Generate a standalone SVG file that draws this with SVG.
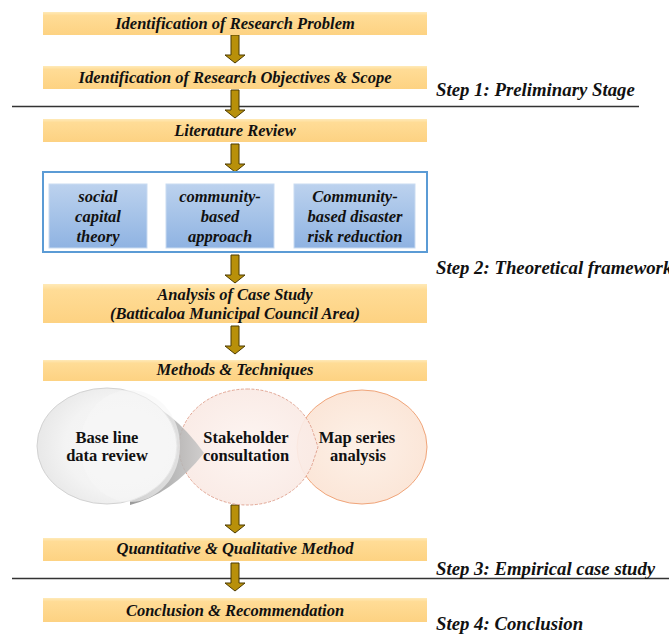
<svg xmlns="http://www.w3.org/2000/svg" width="669" height="635" viewBox="0 0 669 635">
  <style>
    text { font-family: 'Liberation Serif', 'Times New Roman', serif; fill: #111; }
    .bar { fill: url(#barFill); }
    .bar-text { font-weight: bold; font-style: italic; font-size: 16.5px; text-anchor: middle; }
    .step { font-weight: bold; font-style: italic; font-size: 18.8px; }
    .theory { fill: url(#blueFill); stroke: #c9dbf1; stroke-width: 1; }
    .theory-text { font-weight: bold; font-style: italic; font-size: 16.5px; text-anchor: middle; }
    .circle-text { font-weight: bold; font-size: 16.5px; text-anchor: middle; }
    .divider { stroke: #333; stroke-width: 1.3; }
    .flow { fill: #b8900a; stroke: #4d3b00; stroke-width: 1; }
  </style>
  <defs>
    <linearGradient id="barFill" x1="0" y1="0" x2="0" y2="1">
      <stop offset="0" stop-color="#ffeab8"/>
      <stop offset="0.15" stop-color="#ffdc96"/>
      <stop offset="1" stop-color="#fdd282"/>
    </linearGradient>
    <linearGradient id="blueFill" x1="0" y1="0" x2="0" y2="1">
      <stop offset="0" stop-color="#bcd2ee"/>
      <stop offset="1" stop-color="#8fb3e2"/>
    </linearGradient>
    <radialGradient id="greyBall" cx="0.62" cy="0.5" r="0.6">
      <stop offset="0" stop-color="#f7f7f7"/>
      <stop offset="0.7" stop-color="#f3f3f3"/>
      <stop offset="1" stop-color="#e9e9e9"/>
    </radialGradient>
    <linearGradient id="greyShadow" x1="0" y1="0" x2="1" y2="0">
      <stop offset="0" stop-color="#888"/>
      <stop offset="1" stop-color="#c8c8c8"/>
    </linearGradient>
    <radialGradient id="pinkBall" cx="0.5" cy="0.5" r="0.6">
      <stop offset="0" stop-color="#fdf4f1"/>
      <stop offset="1" stop-color="#f9e8e2"/>
    </radialGradient>
    <radialGradient id="peachBall" cx="0.5" cy="0.5" r="0.6">
      <stop offset="0" stop-color="#fdf1e8"/>
      <stop offset="1" stop-color="#fbe4d5"/>
    </radialGradient>
    <path id="downArrow" d="M -4 0 H 4 V 20 H 10 L 0 28 L -10 20 H -4 Z"/>
  </defs>

  <!-- stage dividers -->
  <g id="dividers">
    <line class="divider" x1="12" y1="106.5" x2="639" y2="106.5"/>
    <line class="divider" x1="12" y1="578.5" x2="669" y2="578.5"/>
  </g>

  <!-- flow arrows between stages -->
  <g id="connectors">
    <use href="#downArrow" class="flow" x="235" y="35"/>
    <use href="#downArrow" class="flow" x="235" y="90"/>
    <use href="#downArrow" class="flow" x="235" y="144"/>
    <use href="#downArrow" class="flow" x="235" y="255"/>
    <use href="#downArrow" class="flow" x="235" y="326"/>
    <use href="#downArrow" class="flow" x="235" y="505"/>
    <use href="#downArrow" class="flow" x="235" y="563"/>
  </g>

  <g id="research-problem">
    <rect class="bar" x="43" y="12" width="384" height="23"/>
    <text class="bar-text" x="235" y="29">Identification of Research Problem</text>
  </g>

  <g id="research-objectives">
    <rect class="bar" x="43" y="66" width="384" height="23"/>
    <text class="bar-text" x="235" y="83">Identification of Research Objectives &amp; Scope</text>
  </g>

  <g id="literature-review">
    <rect class="bar" x="43" y="119" width="384" height="23"/>
    <text class="bar-text" x="235" y="136">Literature Review</text>
  </g>

  <g id="theories">
    <rect x="43" y="172" width="384" height="80" fill="#fff" stroke="#5b9bd5" stroke-width="2"/>
    <g id="social-capital">
      <rect class="theory" x="49" y="184" width="98" height="64"/>
      <text class="theory-text" x="98" y="202">social</text>
      <text class="theory-text" x="98" y="222">capital</text>
      <text class="theory-text" x="98" y="242">theory</text>
    </g>
    <g id="community-based">
      <rect class="theory" x="166" y="184" width="108" height="64"/>
      <text class="theory-text" x="220" y="202">community-</text>
      <text class="theory-text" x="220" y="222">based</text>
      <text class="theory-text" x="220" y="242">approach</text>
    </g>
    <g id="cbdrr">
      <rect class="theory" x="294" y="184" width="121" height="64"/>
      <text class="theory-text" x="355" y="202">Community-</text>
      <text class="theory-text" x="355" y="222">based disaster</text>
      <text class="theory-text" x="355" y="242">risk reduction</text>
    </g>
  </g>

  <g id="case-study">
    <rect class="bar" x="43" y="284" width="384" height="39"/>
    <text class="bar-text" x="235" y="300">Analysis of Case Study</text>
    <text class="bar-text" x="235" y="319">(Batticaloa Municipal Council Area)</text>
  </g>

  <g id="methods">
    <rect class="bar" x="43" y="360" width="384" height="21"/>
    <text class="bar-text" x="235" y="375">Methods &amp; Techniques</text>
  </g>

  <g id="map-series">
    <ellipse cx="362" cy="447" rx="65" ry="57" fill="url(#peachBall)" stroke="#f0a57a" stroke-width="1"/>
    <text class="circle-text" x="357" y="443">Map series</text>
    <text class="circle-text" x="358" y="461">analysis</text>
  </g>

  <g id="stakeholder">
    <path d="M 247 389 A 68 58 0 0 1 313 432 L 318 447 L 313 462 A 68 58 0 0 1 247 505 A 68 58 0 0 1 179 447 A 68 58 0 0 1 247 389 Z" fill="url(#pinkBall)" fill-opacity="0.92" stroke="#e2a795" stroke-width="1" stroke-dasharray="3 1.5"/>
    <text class="circle-text" x="246" y="443">Stakeholder</text>
    <text class="circle-text" x="246" y="461">consultation</text>
  </g>

  <g id="baseline">
    <path d="M 130 394 Q 172 408 204 453 Q 172 494 130 505 Z" fill="url(#greyShadow)" opacity="0.85"/>
    <ellipse cx="107" cy="446" rx="70" ry="58" fill="url(#greyBall)" stroke="#d2d2d2" stroke-width="1"/>
    <ellipse cx="130" cy="446" rx="50" ry="56" fill="#f6f6f6" opacity="0.6"/>
    <text class="circle-text" x="107" y="443">Base line</text>
    <text class="circle-text" x="107" y="461">data review</text>
  </g>

  <g id="mixed-method">
    <rect class="bar" x="43" y="538" width="384" height="23"/>
    <text class="bar-text" x="235" y="554">Quantitative &amp; Qualitative Method</text>
  </g>

  <g id="conclusion">
    <rect class="bar" x="43" y="598" width="384" height="24"/>
    <text class="bar-text" x="235" y="616">Conclusion &amp; Recommendation</text>
  </g>

  <g id="step-labels">
    <text class="step" x="436" y="96">Step 1: Preliminary Stage</text>
    <text class="step" x="436" y="274">Step 2: Theoretical framework</text>
    <text class="step" x="436" y="575">Step 3: Empirical case study</text>
    <text class="step" x="436" y="630">Step 4: Conclusion</text>
  </g>
</svg>
